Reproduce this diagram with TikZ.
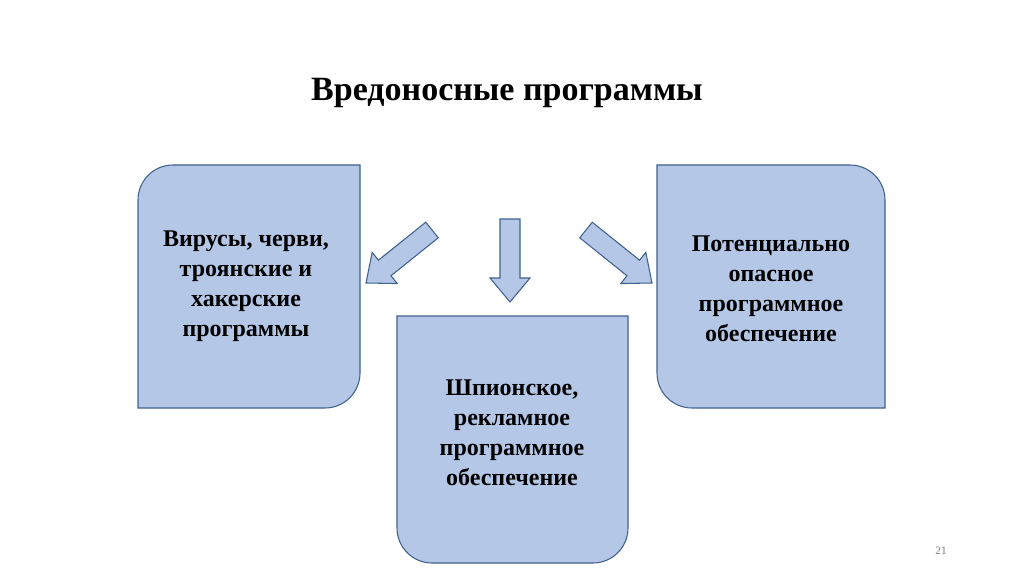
\documentclass[tikz,border=0pt]{standalone}
\usepackage{fontspec}
\setmainfont{Liberation Serif}
\usetikzlibrary{calc}
\definecolor{boxfill}{HTML}{B4C7E7}
\definecolor{boxline}{HTML}{41618F}
\tikzset{
  box/.style={fill=boxfill,draw=boxline,line width=0.8pt},
  label/.style={font=\bfseries\fontsize{18}{22.5}\selectfont,align=center,text=black},
}
\newcommand\barrow[2]{%
  \coordinate (n) at ($(#2)!18pt!(#1)$);
  \draw[box] ($(#1)!7.5pt!90:(#2)$) -- ($(n)!7.5pt!-90:(#1)$) -- ($(n)!15pt!-90:(#1)$) -- (#2)
   -- ($(n)!15pt!90:(#1)$) -- ($(n)!7.5pt!90:(#1)$) -- ($(#1)!7.5pt!-90:(#2)$) -- cycle;}
\begin{document}
\begin{tikzpicture}[x=0.75pt,y=-0.75pt]
\fill[white] (0,0) rectangle (1024,574);
\useasboundingbox (0,0) rectangle (1024,574);
\node[font=\bfseries\fontsize{25.5}{30}\selectfont] (title) at (507,93) {Вредоносные программы};
% left box
\draw[box] (138,408) -- (138,200) arc[start angle=180,end angle=270,radius=35] -- (360,165) -- (360,373) arc[start angle=0,end angle=90,radius=35] -- cycle;
% right box
\draw[box] (657,165) -- (850,165) arc[start angle=-90,end angle=0,radius=35] -- (885,408) -- (692,408) arc[start angle=90,end angle=180,radius=35] -- cycle;
% middle box
\draw[box] (397,316) -- (628,316) -- (628,528) arc[start angle=0,end angle=90,radius=35] -- (432,563) arc[start angle=90,end angle=180,radius=35] -- cycle;
\node[label] (l) at (246,286) {Вирусы, черви,\\троянские и\\хакерские\\программы};
\node[label] (r) at (771,289) {Потенциально\\опасное\\программное\\обеспечение};
\node[label] (m) at (512,433) {Шпионское,\\рекламное\\программное\\обеспечение};
\coordinate (a1s) at (432,230); \coordinate (a1e) at (366,283);
\coordinate (a2s) at (510,219); \coordinate (a2e) at (510,302);
\coordinate (a3s) at (586,230); \coordinate (a3e) at (652,283);
\barrow{a1s}{a1e}
\barrow{a2s}{a2e}
\barrow{a3s}{a3e}
\node[text=gray,font=\fontsize{8.5}{10}\selectfont] (pg) at (941,551) {21};
\end{tikzpicture}
\end{document}
